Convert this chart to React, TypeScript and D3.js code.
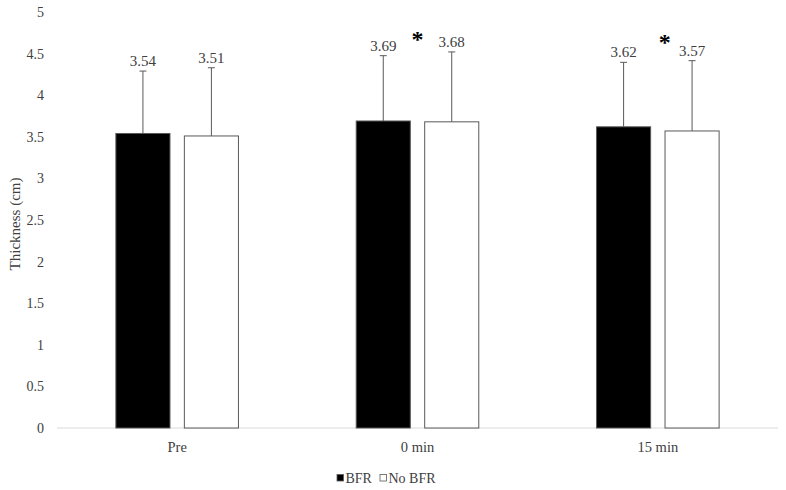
import * as d3 from 'd3';
import { useEffect, useRef } from 'react';

// Chart values
const categories = ['Pre', '0 min', '15 min'];
const seriesNames = ['BFR', 'No BFR'];
const bfrValues = [3.54, 3.69, 3.62];
const noBfrValues = [3.51, 3.68, 3.57];
const bfrSd = [0.75, 0.785, 0.775];
const noBfrSd = [0.82, 0.84, 0.845];
const yTicks = [0, 0.5, 1, 1.5, 2, 2.5, 3, 3.5, 4, 4.5, 5];
// significance markers (category, height in cm)
const sigCategories = ['0 min', '15 min'];
const sigValues = [4.72, 4.69];

export default function App() {
  const chartRef = useRef<SVGSVGElement>(null);

  const width = 786;
  const height = 490;
  const margin = { top: 12, bottom: 62, left: 57, right: 8 };
  const font = 'Liberation Serif, DejaVu Serif, serif';

  useEffect(() => {
    const svg = d3.select(chartRef.current);
    svg.selectAll('*').remove();

    const xScale = d3
      .scaleBand()
      .domain(categories)
      .range([margin.left, width - margin.right])
      .paddingInner(0)
      .paddingOuter(0);

    const yScale = d3
      .scaleLinear()
      .domain([0, 5])
      .range([height - margin.bottom, margin.top]);

    // bars sit in the middle half of each category
    const groupWidth = xScale.bandwidth() * 0.51;
    const groupOffset = (xScale.bandwidth() - groupWidth) / 2;
    const x1 = d3
      .scaleBand()
      .domain(seriesNames)
      .range([0, groupWidth])
      .paddingInner(0.21);

    const rows = categories.flatMap((c, i) => [
      { cat: c, series: 'BFR', value: bfrValues[i], sd: bfrSd[i] },
      { cat: c, series: 'No BFR', value: noBfrValues[i], sd: noBfrSd[i] },
    ]);
    const barX = (d) => xScale(d.cat) + groupOffset + x1(d.series);
    const barMid = (d) => barX(d) + x1.bandwidth() / 2;

    // x axis line
    svg
      .append('line')
      .attr('x1', margin.left)
      .attr('x2', width - margin.right)
      .attr('y1', yScale(0))
      .attr('y2', yScale(0))
      .attr('stroke', '#d9d9d9')
      .attr('stroke-width', 1);

    // y tick labels
    svg
      .append('g')
      .selectAll('text')
      .data(yTicks)
      .enter()
      .append('text')
      .attr('x', 44)
      .attr('y', (d) => yScale(d))
      .attr('dy', '0.35em')
      .attr('text-anchor', 'end')
      .attr('font-family', font)
      .attr('font-size', 14)
      .attr('fill', '#404040')
      .text((d) => d);

    // y title
    svg
      .append('text')
      .attr('transform', `translate(15, ${(yScale(0) + yScale(5)) / 2 + 4}) rotate(-90)`)
      .attr('dy', '0.35em')
      .attr('text-anchor', 'middle')
      .attr('font-family', font)
      .attr('font-size', 15)
      .attr('fill', '#404040')
      .text('Thickness (cm)');

    // category labels
    svg
      .append('g')
      .selectAll('text')
      .data(categories)
      .enter()
      .append('text')
      .attr('x', (d) => xScale(d) + xScale.bandwidth() / 2)
      .attr('y', yScale(0) + 24)
      .attr('text-anchor', 'middle')
      .attr('font-family', font)
      .attr('font-size', 14.5)
      .attr('fill', '#404040')
      .text((d) => d);

    // bars
    svg
      .append('g')
      .selectAll('rect')
      .data(rows)
      .enter()
      .append('rect')
      .attr('x', (d) => barX(d))
      .attr('y', (d) => yScale(d.value))
      .attr('width', x1.bandwidth())
      .attr('height', (d) => yScale(0) - yScale(d.value))
      .attr('fill', (d) => (d.series === 'BFR' ? '#000000' : '#ffffff'))
      .attr('stroke', '#595959')
      .attr('stroke-width', 1);

    // error bars (upper only)
    const err = svg.append('g').attr('stroke', '#595959').attr('stroke-width', 1);
    err
      .selectAll('line.whisker')
      .data(rows)
      .enter()
      .append('line')
      .attr('class', 'whisker')
      .attr('x1', (d) => barMid(d))
      .attr('x2', (d) => barMid(d))
      .attr('y1', (d) => yScale(d.value))
      .attr('y2', (d) => yScale(d.value + d.sd));
    err
      .selectAll('line.cap')
      .data(rows)
      .enter()
      .append('line')
      .attr('class', 'cap')
      .attr('x1', (d) => barMid(d) - 3.5)
      .attr('x2', (d) => barMid(d) + 3.5)
      .attr('y1', (d) => yScale(d.value + d.sd))
      .attr('y2', (d) => yScale(d.value + d.sd));

    // value labels above error bars
    svg
      .append('g')
      .selectAll('text')
      .data(rows)
      .enter()
      .append('text')
      .attr('x', (d) => barMid(d))
      .attr('y', (d) => yScale(d.value + d.sd) - 5)
      .attr('text-anchor', 'middle')
      .attr('font-family', font)
      .attr('font-size', 15)
      .attr('fill', '#404040')
      .text((d) => d.value.toFixed(2));

    // significance asterisks
    const sigShift = [0, 7];
    svg
      .append('g')
      .selectAll('text')
      .data(sigCategories)
      .enter()
      .append('text')
      .attr('x', (d, i) => xScale(d) + xScale.bandwidth() / 2 + sigShift[i])
      .attr('y', (d, i) => yScale(sigValues[i]) + 12)
      .attr('text-anchor', 'middle')
      .attr('font-family', font)
      .attr('font-size', 24)
      .attr('font-weight', 'bold')
      .attr('fill', '#000000')
      .text('*');

    // legend
    const legend = svg.append('g').attr('transform', `translate(337, 478)`);
    const legendX = [0, 43];
    const item = legend
      .selectAll('g')
      .data(seriesNames)
      .enter()
      .append('g')
      .attr('transform', (d, i) => `translate(${legendX[i]}, 0)`);
    item
      .append('rect')
      .attr('x', 0)
      .attr('y', -3.5)
      .attr('width', 6.5)
      .attr('height', 6.5)
      .attr('fill', (d) => (d === 'BFR' ? '#000000' : '#ffffff'))
      .attr('stroke', '#595959')
      .attr('stroke-width', 0.8);
    item
      .append('text')
      .attr('x', 8.5)
      .attr('y', 0)
      .attr('dy', '0.35em')
      .attr('font-family', font)
      .attr('font-size', 14)
      .attr('fill', '#404040')
      .text((d) => d);
  }, []);

  return (
    <svg
      ref={chartRef}
      width={width}
      height={height}
      style={{ position: 'absolute', left: 0, top: 0, background: '#ffffff' }}
    />
  );
}
